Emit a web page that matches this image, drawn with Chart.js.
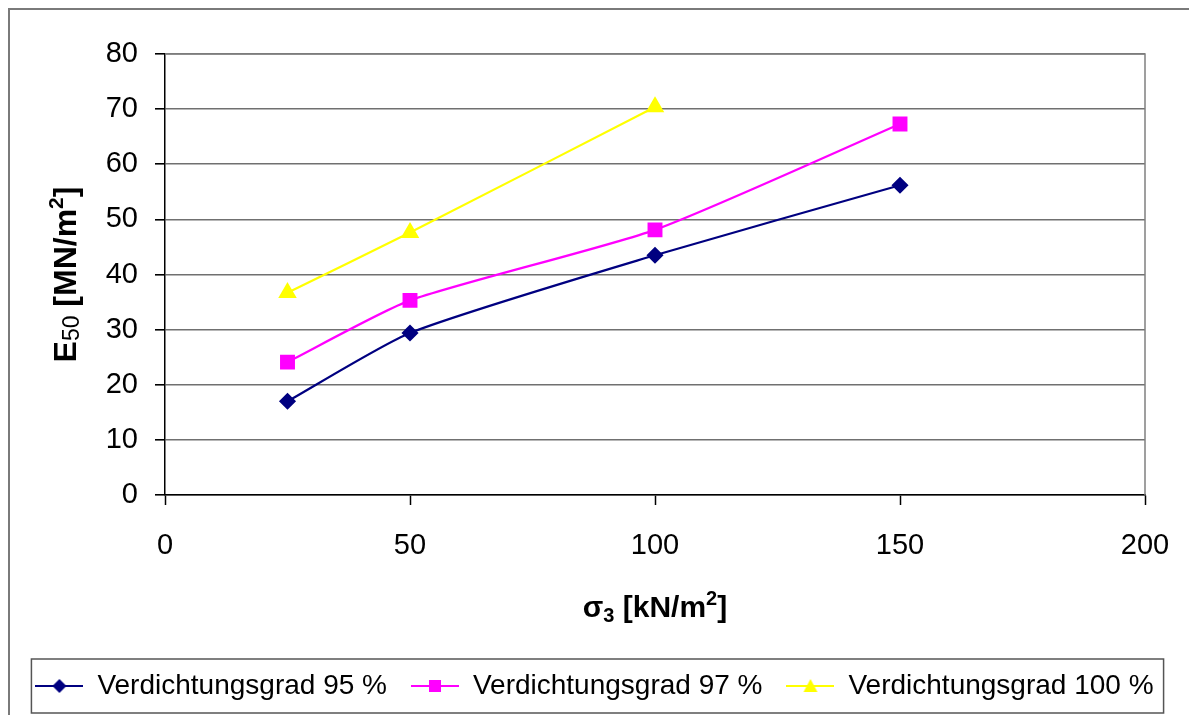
<!DOCTYPE html>
<html>
<head>
<meta charset="utf-8">
<script src="https://cdn.jsdelivr.net/npm/chart.js@4"></script>
<style>
  body { margin: 0; background: #fff; }
  canvas { display: block; }
</style>
</head>
<body>
<canvas id="chart" width="1189" height="715"></canvas>
<script>
// Werte
const sigma3 = [25, 50, 100, 150];
const e50_95 = [17.0, 29.4, 43.5, 56.2];
const e50_97 = [24.1, 35.3, 48.1, 67.3];
const e50_100 = [36.7, 47.6, 70.4];
const seriesNames = ['Verdichtungsgrad 95 %', 'Verdichtungsgrad 97 %', 'Verdichtungsgrad 100 %'];
const xTicks = [0, 50, 100, 150, 200];
const yTicks = [0, 10, 20, 30, 40, 50, 60, 70, 80];

const FONT = 'Liberation Sans, Arial, sans-serif';
const colors = ['#000080', '#ff00ff', '#ffff00'];
const styles = ['rectRot', 'rect', 'triangle'];
const radii = [7, 9, 8.5];
const ICON_W = 48;

const pts = (ys) => ys.map((y, i) => ({ x: sigma3[i], y }));

// kleine Symbole für die Legende: Linie + Marker
function legendIcon(color, style) {
  const c = document.createElement('canvas');
  c.width = ICON_W; c.height = 18;
  const g = c.getContext('2d');
  const m = ICON_W / 2;
  g.strokeStyle = color; g.lineWidth = 2;
  g.beginPath(); g.moveTo(0, 9); g.lineTo(ICON_W, 9); g.stroke();
  g.fillStyle = color;
  g.beginPath();
  if (style === 'rectRot') {
    g.moveTo(m, 2); g.lineTo(m + 7, 9); g.lineTo(m, 16); g.lineTo(m - 7, 9);
  } else if (style === 'rect') {
    g.rect(m - 6, 3, 12, 12);
  } else {
    g.moveTo(m, 2); g.lineTo(m + 7, 15); g.lineTo(m - 7, 15);
  }
  g.closePath(); g.fill();
  return c;
}
const icons = colors.map((c, i) => legendIcon(c, styles[i]));

// Text mit tief-/hochgestellten Teilen
function drawRich(ctx, parts, x, y) {
  let w = 0;
  parts.forEach(p => { ctx.font = p.font; w += ctx.measureText(p.t).width; });
  let cx = x - w / 2;
  parts.forEach(p => {
    ctx.font = p.font;
    ctx.fillText(p.t, cx, y + (p.dy || 0));
    cx += ctx.measureText(p.t).width;
  });
}

const decor = {
  id: 'decor',
  beforeDraw(chart) {
    const ctx = chart.ctx;
    ctx.save();
    ctx.fillStyle = '#fff';
    ctx.fillRect(0, 0, chart.width, chart.height);
    ctx.strokeStyle = '#7a7a7a';
    ctx.lineWidth = 2;
    ctx.strokeRect(9, 9, 1300, 1000);
    ctx.restore();
  },
  beforeDatasetsDraw(chart) {
    const a = chart.chartArea, ctx = chart.ctx;
    ctx.save();
    ctx.strokeStyle = '#808080';
    ctx.lineWidth = 1.5;
    ctx.beginPath();
    ctx.moveTo(a.left, a.top); ctx.lineTo(a.right, a.top); ctx.lineTo(a.right, a.bottom);
    ctx.stroke();
    ctx.restore();
  },
  afterDraw(chart) {
    const ctx = chart.ctx, a = chart.chartArea;
    ctx.save();
    ctx.fillStyle = '#000';
    ctx.textBaseline = 'alphabetic';
    const B = 'bold 30px ' + FONT, S = 'bold 20px ' + FONT;
    // x-Achsentitel
    drawRich(ctx, [
      { t: '\u03c3', font: B },
      { t: '3', font: S, dy: 5 },
      { t: ' [kN/m', font: B },
      { t: '2', font: S, dy: -12 },
      { t: ']', font: B }
    ], (a.left + a.right) / 2, 617);
    // y-Achsentitel
    const BY = 'bold 32px ' + FONT, SY = 'bold 21px ' + FONT, NY = '23px ' + FONT;
    ctx.translate(76, (a.top + a.bottom) / 2);
    ctx.rotate(-Math.PI / 2);
    drawRich(ctx, [
      { t: 'E', font: BY },
      { t: '50', font: NY, dy: 3 },
      { t: ' [MN/m', font: BY },
      { t: '2', font: SY, dy: -13 },
      { t: ']', font: BY }
    ], 0, 0);
    ctx.restore();
    // Legendenrahmen
    const hb = chart.legend.legendHitBoxes;
    if (hb && hb.length) {
      const l = Math.min(...hb.map(h => h.left)) - 4;
      const r = Math.max(...hb.map(h => h.left + h.width)) + 10;
      const cy = hb[0].top + hb[0].height / 2;
      ctx.save();
      ctx.strokeStyle = '#555';
      ctx.lineWidth = 1.5;
      ctx.strokeRect(l, cy - 27, r - l, 54);
      ctx.restore();
    }
  }
};

new Chart(document.getElementById('chart'), {
  type: 'line',
  data: {
    datasets: [e50_95, e50_97, e50_100].map((d, i) => ({
      label: seriesNames[i],
      data: pts(d),
      borderColor: colors[i],
      backgroundColor: colors[i],
      pointStyle: styles[i],
      pointRadius: radii[i],
      pointHoverRadius: radii[i],
      borderWidth: 2.2,
      tension: 0.2,
      fill: false
    }))
  },
  options: {
    responsive: false,
    animation: false,
    layout: { padding: { left: 0, top: 54, right: 0, bottom: 5 } },
    scales: {
      x: {
        type: 'linear',
        min: 0, max: 200,
        afterBuildTicks: s => { s.ticks = xTicks.map(v => ({ value: v })); },
        afterFit: s => { s.height = 153; s.paddingRight = 0; s.paddingLeft = 0; },
        grid: { drawOnChartArea: false, drawTicks: true, tickLength: 10, tickColor: '#000', tickWidth: 1.5 },
        border: { color: '#000', width: 1.5 },
        ticks: { color: '#000', font: { family: FONT, size: 29 }, padding: 24, maxRotation: 0 }
      },
      y: {
        min: 0, max: 80,
        afterBuildTicks: s => { s.ticks = yTicks.map(v => ({ value: v })); },
        afterFit: s => { s.width = 165; },
        grid: { color: '#707070', lineWidth: 1.6, drawTicks: true, tickLength: 10, tickColor: '#000' },
        border: { color: '#000', width: 1.5 },
        ticks: { color: '#000', font: { family: FONT, size: 29 }, padding: 17 }
      },
      // leerer Rand rechts vom Diagramm
      yRight: {
        position: 'right',
        min: 0, max: 80,
        afterFit: s => { s.width = 44; },
        grid: { display: false },
        border: { display: false },
        ticks: { display: false }
      }
    },
    plugins: {
      legend: {
        position: 'bottom',
        labels: {
          usePointStyle: true,
          pointStyleWidth: ICON_W,
          padding: 24,
          color: '#000',
          font: { family: FONT, size: 28 },
          generateLabels: chart => Chart.defaults.plugins.legend.labels.generateLabels(chart)
            .map((l, i) => Object.assign(l, { pointStyle: icons[i] }))
        }
      },
      tooltip: { enabled: false }
    }
  },
  plugins: [decor]
});
</script>
</body>
</html>
